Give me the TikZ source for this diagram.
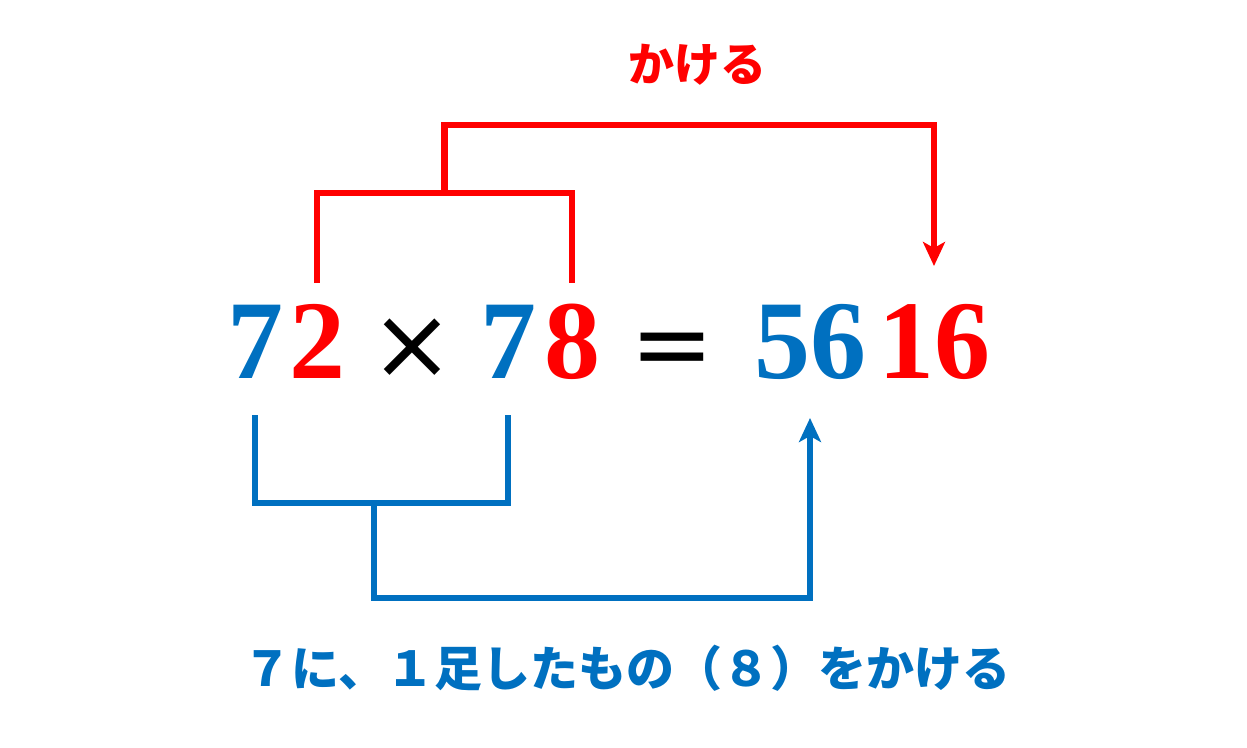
\documentclass[tikz,border=0pt]{standalone}
\usepackage{fontspec}
\usepackage{amsmath}
\usetikzlibrary{calc,arrows.meta}
\newfontfamily\jpfont{Noto Sans CJK JP}
\newfontfamily\numfont{Liberation Serif}
\newfontfamily\symfont{DejaVu Sans}
\definecolor{myred}{RGB}{255,0,0}
\definecolor{myblue}{RGB}{0,112,192}
\tikzset{
	digit/.style={inner sep=0pt, anchor=base, font=\numfont\bfseries\fontsize{112}{112}\selectfont},
	sym/.style={inner sep=0pt, anchor=base, font=\symfont\fontsize{100}{100}\selectfont},
	redline/.style={draw=myred, line width=6.5pt},
	blueline/.style={draw=myblue, line width=6.5pt},
	tip/.style={-{Stealth[length=24pt, width=22pt, inset=6pt]}}
}
\begin{document}
\begin{tikzpicture}[x=1pt, y=-1pt]
				\useasboundingbox (0,0) rectangle (1247,747);
				\node[digit, myblue] (a7)at(255, 378) {7};
				\node[digit, myred] (a2)at(317, 378) {2};
				\node[sym] (times)at(412, 378) {×};
				\node[digit, myblue] (b7)at(508, 378) {7};
				\node[digit, myred] (b8)at(572, 378) {8};
				\node[sym] (eq)at(672, 378) {=};
				\node[digit, myblue] (c56)at(810, 378) {56};
				\node[digit, myred] (c16)at(934, 378) {16};
				\node[myred, font=\jpfont\bfseries\fontsize{46}{46}\selectfont] (kakeru)at(697, 65) {かける};
				\node[myblue, font=\jpfont\bfseries\fontsize{48}{48}\selectfont] (tasu)at(627, 668) {７に、１足したもの（８）をかける};
				\coordinate (rtop)at(0, 125);
				\coordinate (rmid)at(0, 193);
				\coordinate (rfoot)at(0, 283);
				\coordinate (rtip)at(0, 266);
				\coordinate (bfoot)at(0, 415);
				\coordinate (bmid)at(0, 503);
				\coordinate (bbot)at(0, 598);
				\coordinate (btip)at(0, 418);
				\coordinate (rjoin)at($(a2 |- rmid)!0.5!(b8 |- rmid)$);
				\coordinate (bjoin)at($(a7 |- bmid)!0.47!(b7 |- bmid)$);
				\draw[redline] (a2 |- rfoot) |- (b8 |- rmid) -- (b8 |- rfoot);
				\draw[redline, tip] (rjoin) |- (c16 |- rtop) -- (c16 |- rtip);
				\draw[blueline] (a7 |- bfoot) |- (b7 |- bmid) -- (b7 |- bfoot);
				\draw[blueline, tip] (bjoin) |- (c56 |- bbot) -- (c56 |- btip);
			\end{tikzpicture}
\end{document}
